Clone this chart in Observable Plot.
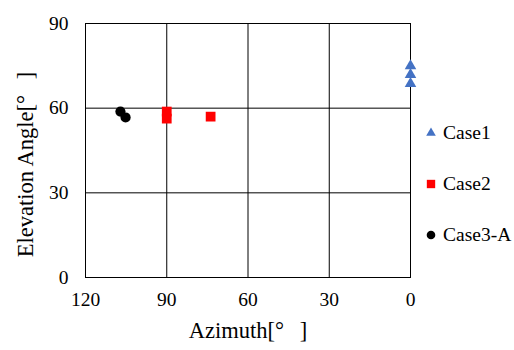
<!DOCTYPE html>
<html><head><meta charset="utf-8">
<script src="https://cdn.jsdelivr.net/npm/d3@7"></script>
<script src="https://cdn.jsdelivr.net/npm/@observablehq/plot@0.6"></script>
<style>
body{margin:0;background:#fff;font-family:"Liberation Serif","Times New Roman",serif;}
#wrap{position:relative;width:514px;height:350px;}
#legend{position:absolute;left:424px;top:121px;font-size:19.5px;color:#000;font-family:"Liberation Serif","Times New Roman",serif;}
.item{display:flex;align-items:center;height:24px;margin-bottom:27px;white-space:nowrap;}
.item svg{margin-right:5px;}
#chart svg text{font-family:"Liberation Serif","Times New Roman",serif;}
</style></head>
<body><div id="wrap"><div id="chart"></div><div id="legend"></div></div>
<script>
const seriesNames = ["Case1", "Case2", "Case3-A"];
const seriesColors = ["#4472C4", "#FF0000", "#000000"];
const seriesSymbols = ["triangle", "square", "circle"];
const case1Az = [0, 0, 0];
const case1El = [75.0, 71.9, 68.7];
const case2Az = [90, 90, 73.8];
const case2El = [58.8, 56.3, 57.0];
const case3Az = [107.1, 105.2];
const case3El = [58.8, 56.7];
const xTicks = [120, 90, 60, 30, 0];
const yTicks = [0, 30, 60, 90];
const xLabel = "Azimuth[°\u2002\u2009]";
const yLabel = "Elevation Angle[°\u2002\u2009]";

const seriesData = [[case1Az, case1El], [case2Az, case2El], [case3Az, case3El]].map(([az, el], i) =>
  az.map((a, j) => ({series: seriesNames[i], az: a, el: el[j]})));
const markerR = {triangle: 4.3, square: 5.5, circle: 5.1};

const chart = Plot.plot({
  width: 420, height: 350,
  marginLeft: 85, marginRight: 10, marginTop: 23, marginBottom: 73,
  style: {fontFamily: "'Liberation Serif', 'Times New Roman', serif", fontSize: "19.5px", color: "#000", background: "#fff"},
  x: {domain: [120, 0], ticks: xTicks},
  y: {domain: [0, 90], ticks: yTicks},
  marks: [
    Plot.gridX(xTicks, {stroke: "#000", strokeOpacity: 1, strokeWidth: 1}),
    Plot.gridY(yTicks, {stroke: "#000", strokeOpacity: 1, strokeWidth: 1}),
    Plot.frame({stroke: "#000", strokeWidth: 1}),
    Plot.axisX(xTicks, {tickSize: 0, tickPadding: 15, label: null, fontSize: 19.5}),
    Plot.axisY(yTicks, {tickSize: 0, tickPadding: 17, label: null, fontSize: 19.5}),
    Plot.text([xLabel], {frameAnchor: "bottom", dy: 60, fontSize: 22.5, fill: "#000"}),
    Plot.text([yLabel], {frameAnchor: "left", textAnchor: "middle", dx: -60, dy: 14, rotate: -90, fontSize: 22.5, fill: "#000"}),
    ...seriesData.map((rows, i) => Plot.dot(rows, {x: "az", y: "el", fill: seriesColors[i], symbol: seriesSymbols[i], r: markerR[seriesSymbols[i]], stroke: "none"}))
  ]
});
document.getElementById("chart").appendChild(chart);

const legend = document.getElementById("legend");
const sym = {triangle: d3.symbolTriangle, square: d3.symbolSquare, circle: d3.symbolCircle};
const legendArea = {triangle: 40, square: 70, circle: 58};
seriesNames.forEach((name, i) => {
  const div = document.createElement("div");
  div.className = "item";
  const path = d3.symbol(sym[seriesSymbols[i]], legendArea[seriesSymbols[i]])();
  div.innerHTML = `<svg width="14" height="14" viewBox="-7 -7 14 14"><path d="${path}" fill="${seriesColors[i]}"/></svg><span>${name}</span>`;
  legend.appendChild(div);
});
</script></body></html>
